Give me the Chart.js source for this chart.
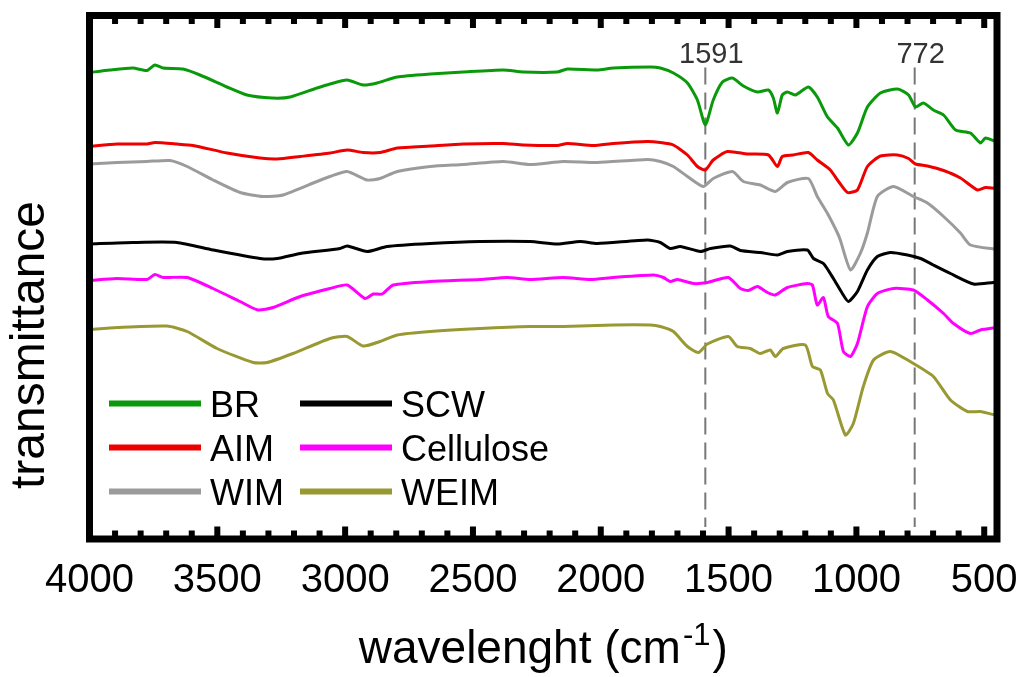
<!DOCTYPE html>
<html>
<head>
<meta charset="utf-8">
<script src="https://cdn.jsdelivr.net/npm/chart.js@4.4.1/dist/chart.umd.min.js"></script>
<style>
  html, body { margin: 0; padding: 0; background: #fff; }
  #wrap { width: 1021px; height: 677px; }
</style>
</head>
<body>
<div id="wrap"><canvas id="ftir"></canvas></div>
<script>
// wavenumber (cm-1) and offset transmittance (a.u.)
const brX = [4000,3920,3830,3775,3744,3712,3634,3568,3462,3384,3286,3215,3110,3059,2992,2930,2875,2796,2667,2538,2382,2303,2170,2131,2014,1951,1806,1767,1716,1661,1622,1591,1560,1524,1485,1442,1387,1344,1325,1309,1290,1270,1239,1188,1153,1113,1074,1031,996,957,906,839,796,769,738,699,659,612,554,515,495,450];
const brY = [93.3,93.8,94.2,93.7,94.8,94.2,94.0,92.8,90.4,88.8,88.2,88.4,90.2,91.0,91.8,90.8,91.2,92.4,93.0,93.4,93.8,93.4,93.4,94.0,93.8,94.2,94.4,94.2,93.2,91.2,87.8,82.8,87.8,91.4,92.2,90.6,89.4,89.8,88.2,85.2,88.8,89.4,88.8,90.4,88.4,84.4,82.2,78.8,81.2,86.4,89.2,90.0,88.8,86.4,87.2,85.8,84.8,81.8,81.2,79.2,80.2,79.4];

const aimX = [4000,3892,3775,3744,3658,3595,3462,3333,3266,3176,3059,2992,2930,2863,2796,2667,2538,2382,2303,2170,2131,2029,1951,1818,1767,1716,1661,1622,1591,1560,1505,1426,1344,1309,1290,1247,1188,1153,1102,1070,1035,996,957,906,839,796,769,722,659,593,526,495,450];
const aimY = [78.5,79.0,79.0,79.3,79.0,78.7,77.2,76.2,76.0,76.5,77.2,77.8,77.3,77.3,78.2,78.6,79.0,79.1,78.8,78.7,79.1,78.7,79.1,79.5,79.3,78.8,76.8,74.5,73.8,75.8,77.5,77.0,76.8,74.5,76.5,76.8,77.3,75.8,73.8,71.5,69.3,69.8,74.5,76.6,76.8,76.1,75.0,74.6,73.7,72.2,69.8,70.3,70.1];

const wimX = [4000,3892,3775,3685,3618,3517,3411,3321,3243,3110,3059,2992,2914,2863,2796,2667,2538,2382,2276,2147,2014,1818,1767,1716,1661,1599,1560,1485,1442,1376,1317,1270,1188,1153,1113,1074,1063,1023,984,957,918,855,777,722,659,593,554,450];
const wimY = [75.0,75.3,75.5,75.7,74.5,71.8,69.3,68.5,68.8,71.5,72.5,73.5,71.8,72.1,73.5,74.5,74.9,75.5,74.9,75.5,75.3,75.9,75.5,74.5,72.5,70.5,72.1,73.5,71.5,70.8,69.5,71.3,72.1,68.5,65.1,61.2,59.8,53.8,57.2,61.2,68.5,70.5,68.5,67.2,64.5,61.2,58.8,57.9];

const scwX = [4000,3830,3658,3517,3333,3266,3176,3020,2992,2914,2836,2667,2472,2276,2170,2080,2014,1818,1767,1728,1689,1610,1571,1493,1454,1376,1309,1270,1192,1168,1129,1090,1055,1031,996,957,918,867,800,749,699,632,542,464,450];
const scwY = [59.0,59.3,59.3,57.8,56.1,56.1,57.1,58.1,58.6,57.5,58.5,59.1,59.5,59.5,59.0,59.5,59.1,59.8,59.3,58.1,58.5,57.5,58.1,58.6,57.7,57.3,56.8,57.5,57.8,56.1,55.1,52.1,49.1,47.5,49.5,53.8,56.5,57.3,56.8,56.1,54.8,53.1,51.0,51.3,51.3];

const celX = [4000,3892,3775,3744,3712,3618,3517,3411,3341,3282,3176,3059,2992,2922,2890,2855,2812,2667,2472,2366,2276,2147,2041,1951,1794,1755,1728,1700,1638,1583,1501,1454,1423,1387,1348,1317,1270,1192,1172,1153,1129,1110,1074,1051,1023,996,957,918,855,777,722,659,620,554,515,450];
const celY = [51.7,52.1,51.9,52.9,52.3,52.3,50.1,47.5,45.8,46.3,48.5,50.1,50.8,48.1,49.0,49.0,50.8,51.5,51.9,52.3,51.9,52.3,51.9,52.3,52.8,52.3,51.5,51.9,51.1,51.3,52.3,50.1,49.7,50.5,49.3,48.8,50.3,51.1,50.8,46.8,48.3,44.5,43.1,37.5,36.5,39.1,46.5,49.1,50.1,49.8,47.8,45.1,43.1,41.1,41.8,42.3];

const weimX = [4000,3892,3697,3618,3501,3360,3305,3204,3059,2992,2930,2863,2796,2667,2472,2276,2147,1951,1806,1767,1716,1661,1618,1583,1501,1466,1415,1376,1337,1317,1286,1200,1172,1141,1113,1090,1043,1012,973,933,867,777,699,632,566,515,464,450];
const weimY = [41.9,42.3,42.6,41.5,38.1,35.3,35.3,37.1,40.1,40.5,38.6,39.5,40.8,41.5,42.1,42.5,42.5,42.8,42.8,42.5,41.5,38.5,37.3,39.0,40.5,38.5,38.1,37.1,37.8,36.5,38.1,38.8,34.5,33.8,29.1,27.8,20.8,23.1,30.5,35.8,37.5,35.1,32.5,27.8,25.5,25.5,24.9,25.0];

const seriesNames = ['BR', 'AIM', 'WIM', 'SCW', 'Cellulose', 'WEIM'];
const tickValues = [4000, 3500, 3000, 2500, 2000, 1500, 1000, 500];
const bandMarks = [1591, 772];

const FONT = '"Liberation Sans", Arial, sans-serif';

function pts(xs, ys) {
  return xs.map((x, i) => ({ x: x, y: ys[i] }));
}

function line(label, xs, ys, color) {
  return {
    label: label,
    data: pts(xs, ys),
    borderColor: color,
    backgroundColor: color,
    borderWidth: 3,
    pointRadius: 0,
    tension: 0.2,
    fill: false
  };
}

// frame, inner ticks, band markers, legend and axis titles
const decor = {
  id: 'decor',
  beforeDatasetsDraw(chart) {
    const { ctx, chartArea: a, scales: { x } } = chart;
    ctx.save();
    ctx.strokeStyle = '#777';
    ctx.lineWidth = 2;
    ctx.setLineDash([17, 8]);
    bandMarks.forEach(b => {
      const px = x.getPixelForValue(b);
      ctx.beginPath();
      ctx.moveTo(px, a.top + 52);
      ctx.lineTo(px, a.bottom - 12);
      ctx.stroke();
    });
    ctx.setLineDash([]);
    ctx.fillStyle = '#333';
    ctx.font = '29px ' + FONT;
    ctx.textAlign = 'center';
    ctx.textBaseline = 'alphabetic';
    bandMarks.forEach(b => {
      ctx.fillText(String(b), x.getPixelForValue(b) + 6, a.top + 47);
    });
    ctx.restore();
  },
  afterDatasetsDraw(chart) {
    const { ctx, chartArea: a, scales: { x } } = chart;
    ctx.save();
    // thick box
    ctx.strokeStyle = '#000';
    ctx.lineWidth = 7;
    ctx.strokeRect(a.left, a.top, a.right - a.left, a.bottom - a.top);
    // inward ticks every 100 cm-1
    ctx.lineWidth = 6;
    for (let v = 500; v <= 4000; v += 100) {
      const px = x.getPixelForValue(v);
      const len = v % 500 === 0 ? 12.5 : 8.5;
      ctx.beginPath();
      ctx.moveTo(px, a.top);
      ctx.lineTo(px, a.top + len);
      ctx.moveTo(px, a.bottom);
      ctx.lineTo(px, a.bottom - len);
      ctx.stroke();
    }

    // legend, two columns of three
    const ds = chart.data.datasets;
    ctx.font = '36px ' + FONT;
    ctx.textAlign = 'left';
    ctx.textBaseline = 'alphabetic';
    ds.forEach((d, i) => {
      const col = Math.floor(i / 3), row = i % 3;
      const lx = a.left + 19.5 + col * 191;
      const ly = a.top + 388 + row * 44;
      ctx.strokeStyle = d.borderColor;
      ctx.lineWidth = 6;
      ctx.beginPath();
      ctx.moveTo(lx, ly);
      ctx.lineTo(lx + 92, ly);
      ctx.stroke();
      ctx.fillStyle = '#000';
      ctx.fillText(d.label, lx + 101, ly + 13);
    });

    // y title
    ctx.save();
    ctx.translate(44, 345);
    ctx.rotate(-Math.PI / 2);
    ctx.font = '48px ' + FONT;
    ctx.textAlign = 'center';
    ctx.fillText('transmittance', 0, 0);
    ctx.restore();

    // x title with superscript
    const big = '46px ' + FONT, small = '31px ' + FONT;
    const p1 = 'wavelenght (cm', p2 = '-1', p3 = ')';
    ctx.font = big;
    const w1 = ctx.measureText(p1).width, w3 = ctx.measureText(p3).width;
    ctx.font = small;
    const w2 = ctx.measureText(p2).width;
    const total = w1 + w2 + w3 + 4;
    let tx = (a.left + a.right) / 2 - total / 2;
    const base = 663;
    ctx.textAlign = 'left';
    ctx.font = big;
    ctx.fillText(p1, tx, base);
    tx += w1 + 2;
    ctx.font = small;
    ctx.fillText(p2, tx, base - 18);
    tx += w2 + 2;
    ctx.font = big;
    ctx.fillText(p3, tx, base);
    ctx.restore();
  }
};

new Chart(document.getElementById('ftir'), {
  type: 'line',
  data: {
    datasets: [
      line(seriesNames[0], brX, brY, '#0a990a'),
      line(seriesNames[1], aimX, aimY, '#ee0000'),
      line(seriesNames[2], wimX, wimY, '#9b9b9b'),
      line(seriesNames[3], scwX, scwY, '#000000'),
      line(seriesNames[4], celX, celY, '#ff00ff'),
      line(seriesNames[5], weimX, weimY, '#999933')
    ]
  },
  options: {
    responsive: true,
    maintainAspectRatio: false,
    animation: false,
    layout: { padding: { left: 89.5, right: 24, top: 15.5, bottom: 0 } },
    plugins: {
      legend: { display: false },
      tooltip: { enabled: false }
    },
    scales: {
      x: {
        type: 'linear',
        reverse: true,
        min: 450,
        max: 4000,
        grid: { display: false, drawTicks: true, tickLength: 18 },
        border: { display: false },
        afterBuildTicks: s => { s.ticks = tickValues.map(v => ({ value: v })); },
        afterFit: s => { s.height = 138; },
        ticks: {
          color: '#000',
          padding: 0,
          maxRotation: 0,
          autoSkip: false,
          font: { family: FONT, size: 40 },
          callback: v => String(v)
        }
      },
      y: {
        display: false,
        min: 0,
        max: 104.7
      }
    }
  },
  plugins: [decor]
});
</script>
</body>
</html>
